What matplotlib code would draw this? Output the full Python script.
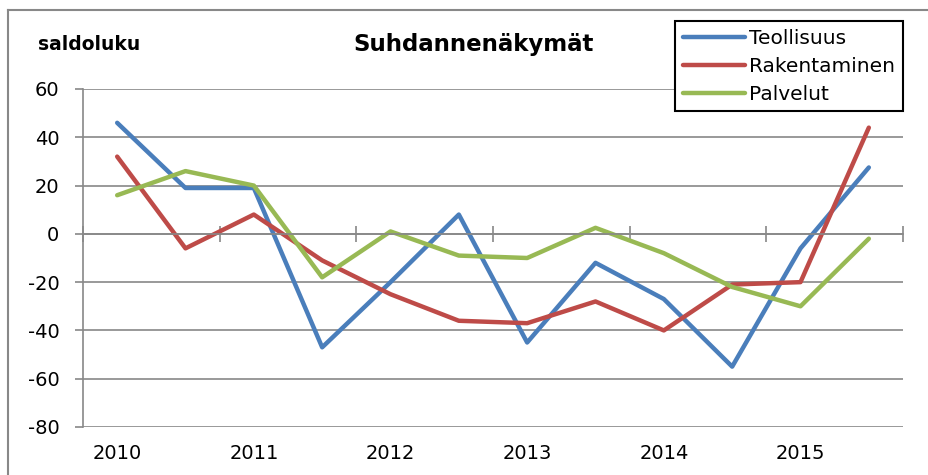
import matplotlib
matplotlib.use("Agg")
import matplotlib.pyplot as plt
from matplotlib.lines import Line2D

plt.rcParams['font.family'] = ['DejaVu Sans']
plt.rcParams['axes.unicode_minus'] = False

# half-year observations, 2010-2015
years = ["2010", "2011", "2012", "2013", "2014", "2015"]
teollisuus = [46, 19, 19, -47, -20, 8, -45, -12, -27, -55, -6, 27.5]
rakentaminen = [32, -6, 8, -11, -25, -36, -37, -28, -40, -21, -20, 44]
palvelut = [16, 26, 20, -18, 1, -9, -10, 2.5, -8, -22, -30, -2]

x = list(range(len(teollisuus)))

fig = plt.figure(figsize=(9.29, 4.75), dpi=100)
ax = fig.add_axes([83/929, 1-427/475, (903-83)/929, (427-89)/475])

gray = "#888888"
ax.plot(x, teollisuus, color="#4A7EBB", lw=3.2, label="Teollisuus", solid_capstyle="round")
ax.plot(x, rakentaminen, color="#BE4B48", lw=3.2, label="Rakentaminen", solid_capstyle="round")
ax.plot(x, palvelut, color="#98B954", lw=3.2, label="Palvelut", solid_capstyle="round")

ax.set_xlim(-0.5, len(x) - 0.5)
ax.set_ylim(-80, 60)
ax.set_yticks(range(-80, 61, 20))
ax.yaxis.grid(True, color=gray, lw=1.2)
ax.set_axisbelow(True)
ax.tick_params(axis="y", direction="out", length=6, width=1.2, color=gray,
               labelsize=14, pad=11)

for s in ["top", "right"]:
    ax.spines[s].set_visible(False)
ax.spines["left"].set_color(gray)
ax.spines["left"].set_linewidth(1.2)
ax.spines["bottom"].set_position(("data", 0))
ax.spines["bottom"].set_color(gray)
ax.spines["bottom"].set_linewidth(1.2)

# tick marks between year groups on the zero line
ax.set_xticks([i - 0.5 for i in range(0, len(x) + 1, 2)])
ax.set_xticklabels([])
ax.tick_params(axis="x", direction="inout", length=12, width=1.2, color=gray)

# year labels at the bottom
sec = ax.secondary_xaxis("bottom")
sec.spines["bottom"].set_visible(False)
sec.set_xticks(range(0, len(x), 2))
sec.set_xticklabels(years, fontsize=14)
sec.tick_params(length=0, pad=12)

fig.text(474/929, 1-44/475, "Suhdannenäkymät", ha="center", va="center",
         fontsize=16.5, fontweight="bold")
fig.text(38/929, 1-44/475, "saldoluku", ha="left", va="center",
         fontsize=13.5, fontweight="bold")

leg = ax.legend(loc="upper right", bbox_to_anchor=(903/929, 1-21/475),
                bbox_transform=fig.transFigure, fontsize=14.5, frameon=True,
                fancybox=False, edgecolor="black", framealpha=1,
                handlelength=3.1, handletextpad=0.2, labelspacing=0.45,
                borderpad=0.38, borderaxespad=0)
leg.get_frame().set_linewidth(1.5)

# outer chart border
fig.add_artist(Line2D([8/929, 8/929], [0, 1-10/475], color=gray, lw=1.5,
                      transform=fig.transFigure))
fig.add_artist(Line2D([8/929, 1], [1-10/475, 1-10/475], color=gray, lw=1.5,
                      transform=fig.transFigure))

fig.savefig("out.png", dpi=100)
